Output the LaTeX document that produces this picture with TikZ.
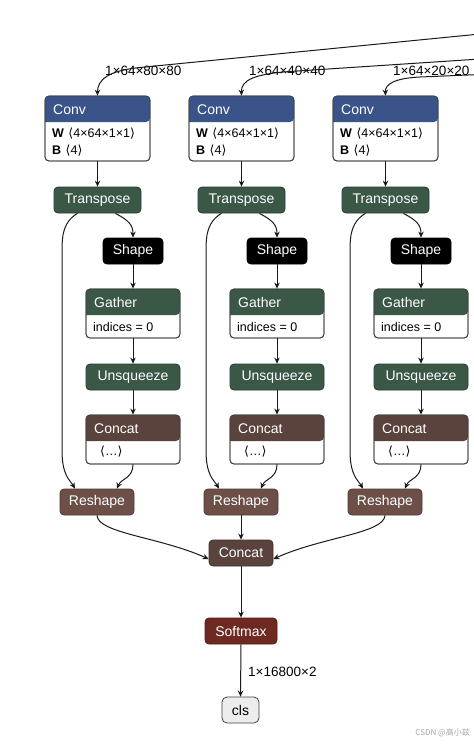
\documentclass[tikz,border=0pt]{standalone}
\usepackage{fontspec}
\setmainfont{Liberation Sans}
\newfontfamily\dv{DejaVu Sans}
\newfontfamily\cjk{Noto Sans CJK SC}
\usetikzlibrary{arrows.meta,calc}
\definecolor{convc}{HTML}{3A5489}
\definecolor{transc}{HTML}{3B5746}
\definecolor{concc}{HTML}{5A433C}
\definecolor{reshc}{HTML}{6C5048}
\definecolor{softc}{HTML}{6E2A22}
\definecolor{edgec}{HTML}{1A1A1A}
\newcommand{\hfnt}{\fontsize{14}{16}\selectfont}
\newcommand{\lfnt}{\fontsize{13.5}{16}\selectfont}
\newcommand{\bfnt}{\fontsize{12.5}{15}\selectfont}
\newcommand{\la}{{\dv\char"27E8}}
\newcommand{\ra}{{\dv\char"27E9}}
\begin{document}
\begin{tikzpicture}[x=1pt,y=-1pt,
  hdr/.style={rectangle, rounded corners=4pt, minimum height=26pt, inner sep=0pt,
    fill=#1, draw=#1!70!black, line width=0.8pt, text=white, font=\hfnt},
  bodybox/.style={rectangle, rounded corners=4pt, inner sep=0pt, fill=white,
    draw=black!75, line width=0.8pt},
  htext/.style={anchor=west, text=white, font=\hfnt, inner sep=0pt},
  btext/.style={anchor=west, text=black, font=\bfnt, inner sep=0pt},
  lbl/.style={font=\lfnt, inner sep=0pt, text=black},
  edge/.style={draw=edgec, line width=1pt, -{Stealth[length=6pt,width=5.5pt]}}]
\useasboundingbox (0,0) rectangle (474,745);
\clip (0,0) rectangle (474,745);

\foreach \i/\lab [evaluate=\i as \dx using (\i-1)*144] in {1/80,2/40,3/20}{
  % Conv
  \node[bodybox, minimum width=105pt, minimum height=65pt] (conv\i) at (97.5+\dx,128.5) {};
  \fill[convc] (45+\dx,122) [rounded corners=4pt] |- (97.5+\dx,96) -| (150+\dx,122) [sharp corners] -- cycle;
  \draw[black!75, line width=0.8pt, rounded corners=4pt] (45+\dx,96) rectangle (150+\dx,161);
  \node[htext] at (53+\dx,109.5) {Conv};
  \node[btext] at (52+\dx,134) {\textbf{W}\hspace{4.5pt}\la4×64×1×1\ra};
  \node[btext] at (52+\dx,151) {\textbf{B}\hspace{4.5pt}\la4\ra};
  \node[lbl, anchor=west] (in\i lbl) at (105+\dx,70.5) {1×64×\lab×\lab};
  % Transpose
  \node[hdr=transc, minimum width=87pt] (tr\i) at (97.5+\dx,200) {Transpose};
  % Shape
  \node[hdr=black, minimum width=60pt, draw=black] (sh\i) at (133+\dx,251) {Shape};
  % Gather
  \node[bodybox, minimum width=94pt, minimum height=49pt] (ga\i) at (133+\dx,313.5) {};
  \fill[transc] (86+\dx,315) [rounded corners=4pt] |- (133+\dx,289) -| (180+\dx,315) [sharp corners] -- cycle;
  \draw[black!75, line width=0.8pt, rounded corners=4pt] (86+\dx,289) rectangle (180+\dx,338);
  \node[htext] at (94+\dx,302.5) {Gather};
  \node[btext] at (93+\dx,327) {indices = 0};
  % Unsqueeze
  \node[hdr=transc, minimum width=94pt] (un\i) at (133+\dx,377) {Unsqueeze};
  % Concat
  \node[bodybox, minimum width=94pt, minimum height=49pt] (cc\i) at (133+\dx,439.5) {};
  \fill[concc] (86+\dx,441) [rounded corners=4pt] |- (133+\dx,415) -| (180+\dx,441) [sharp corners] -- cycle;
  \draw[black!75, line width=0.8pt, rounded corners=4pt] (86+\dx,415) rectangle (180+\dx,464);
  \node[htext] at (94+\dx,428.5) {Concat};
  \node[btext] at (100+\dx,452) {\la…\ra};
  % Reshape
  \node[hdr=reshc, minimum width=74pt] (rs\i) at (97+\dx,502) {Reshape};
  % edges
  \draw[edge] (conv\i.south) -- (tr\i.north);
  \draw[edge] ([xshift=18pt]tr\i.south) .. controls +(13,7) and +(0,-13) .. (sh\i.north);
  \draw[edge] ([xshift=-20pt]tr\i.south) .. controls +(-14,8) and +(0,-15) .. (62+\dx,250) -- (62+\dx,450) .. controls (62+\dx,476) and (70+\dx,480) .. ([xshift=-22pt]rs\i.north);
  \draw[edge] (sh\i.south) -- (ga\i.north);
  \draw[edge] (ga\i.south) -- (un\i.north);
  \draw[edge] (un\i.south) -- (cc\i.north);
  \draw[edge] (cc\i.south) .. controls +(0,14) and +(4,-10) .. ([xshift=20pt]rs\i.north);
}

% final part
\node[hdr=concc, minimum width=64pt] (cat) at (241,553) {Concat};
\node[hdr=softc, minimum width=72pt] (soft) at (241,631) {Softmax};
\node[rectangle, rounded corners=5pt, minimum width=37pt, minimum height=26pt, inner sep=0pt,
  fill=black!7, draw=black!75, line width=0.8pt, font=\hfnt] (cls) at (240.5,710) {cls};

\draw[edge] (rs1.south) .. controls +(1,18) and (160,537) .. ([yshift=-6pt]cat.west);
\draw[edge] (rs2.south) -- (cat.north);
\draw[edge] (rs3.south) .. controls +(-1,18) and (322,537) .. ([yshift=-6pt]cat.east);
\draw[edge] (cat.south) -- (soft.north);
\draw[edge] (soft.south) -- (cls.north) node[lbl, anchor=west, pos=0.53, xshift=7pt] {1×16800×2};

% inputs from outside
\coordinate (in1) at (480,34);
\coordinate (in2) at (480,59);
\coordinate (in3) at (480,74.5);
\draw[edge] (in1) -- (140,67.5) .. controls (108,70.6) and (97.5,80) .. (conv1.north);
\draw[edge] (in2) -- (290,71.5) .. controls (255,73.9) and (241,80) .. (conv2.north);
\draw[edge] (in3) -- (420,77) .. controls (395,78.2) and (385,84) .. (conv3.north);

\node[anchor=east, text=black!35, font=\cjk\fontsize{8}{9}\selectfont, inner sep=0pt] (wm) at (470,733) {CSDN @高小兹};
\end{tikzpicture}
\end{document}
